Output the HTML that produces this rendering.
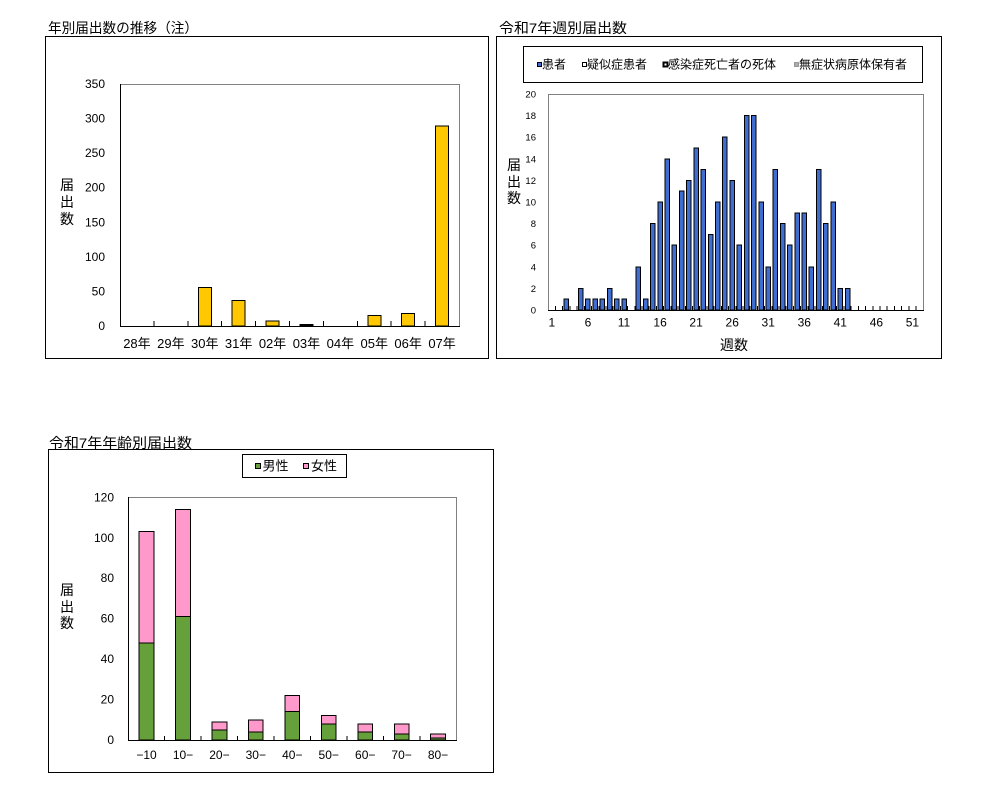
<!DOCTYPE html>
<html>
<head>
<meta charset="utf-8">
<style>
html,body{margin:0;padding:0;background:#fff;}
body{width:991px;height:811px;overflow:hidden;}
svg{display:block;}
text{font-family:"Liberation Sans","Noto Sans CJK JP",sans-serif;fill:#000;}
.r{shape-rendering:crispEdges;}
</style>
</head>
<body>
<svg width="991" height="811" viewBox="0 0 991 811" xmlns="http://www.w3.org/2000/svg">
<!-- ================= Chart 1 ================= -->
<text x="48" y="33" font-size="14" textLength="150" lengthAdjust="spacingAndGlyphs">年別届出数の推移（注）</text>
<rect class="r" x="45.5" y="36.5" width="443" height="322" fill="none" stroke="#000"/>
<!-- plot frame -->
<path class="r" d="M120 84.5 H459.5 V326" fill="none" stroke="#808080"/>
<!-- bars -->
<g class="r" stroke="#000" stroke-width="1" fill="#FFC800">
<rect x="198.25" y="287.28" width="13" height="38.72"/>
<rect x="232.15" y="300.42" width="13" height="25.58"/>
<rect x="266.05" y="321.16" width="13" height="4.84"/>
<rect x="299.95" y="324.5" width="13" height="1.5" fill="#000"/>
<rect x="367.75" y="315.63" width="13" height="10.37"/>
<rect x="401.65" y="313.55" width="13" height="12.45"/>
<rect x="435.55" y="126.2" width="13" height="199.8"/>
</g>
<path class="r" d="M120.5 84 V326.5 M120 326.5 H460 M153.9 321 V326 M187.8 321 V326 M221.7 321 V326 M255.6 321 V326 M289.5 321 V326 M323.4 321 V326 M357.3 321 V326 M391.2 321 V326 M425.1 321 V326" stroke="#000" fill="none"/>
<g font-size="12" text-anchor="end">
<text x="105" y="330">0</text>
<text x="105" y="295.4">50</text>
<text x="105" y="260.9">100</text>
<text x="105" y="226.3">150</text>
<text x="105" y="191.7">200</text>
<text x="105" y="157.1">250</text>
<text x="105" y="122.6">300</text>
<text x="105" y="88">350</text>
</g>
<g font-size="14" text-anchor="middle">
<text x="67" y="190">届</text>
<text x="67" y="207">出</text>
<text x="67" y="224">数</text>
</g>
<g font-size="13" text-anchor="middle">
<text x="136.95" y="348">28年</text>
<text x="170.85" y="348">29年</text>
<text x="204.75" y="348">30年</text>
<text x="238.65" y="348">31年</text>
<text x="272.55" y="348">02年</text>
<text x="306.45" y="348">03年</text>
<text x="340.35" y="348">04年</text>
<text x="374.25" y="348">05年</text>
<text x="408.15" y="348">06年</text>
<text x="442.05" y="348">07年</text>
</g>

<!-- ================= Chart 2 ================= -->
<text x="499" y="33" font-size="14" textLength="128" lengthAdjust="spacingAndGlyphs">令和7年週別届出数</text>
<rect class="r" x="496.5" y="36.5" width="445" height="322" fill="none" stroke="#000"/>
<rect class="r" x="523.5" y="46.5" width="399" height="36" fill="none" stroke="#000"/>
<!-- legend -->
<rect class="r" x="537.5" y="62.5" width="4" height="4" fill="#3F6ED0" stroke="#000"/>
<text x="542" y="68.5" font-size="12">患者</text>
<rect class="r" x="582.5" y="62.5" width="4" height="4" fill="#fff" stroke="#000"/>
<text x="587" y="68.5" font-size="12">疑似症患者</text>
<rect class="r" x="663.5" y="62.5" width="4" height="4" fill="#fff" stroke="#000" stroke-width="1.6"/>
<text x="668" y="68.5" font-size="12">感染症死亡者の死体</text>
<rect class="r" x="794.5" y="62.5" width="4" height="4" fill="#aaa" stroke="#999"/>
<text x="799" y="68.5" font-size="12">無症状病原体保有者</text>
<!-- plot frame -->
<path class="r" d="M548.5 310 V94.5 H923.5 V310" fill="none" stroke="#808080"/>
<!-- bars -->
<g class="r" stroke="#000" stroke-width="1" fill="#3F6ED0">
<rect x="564.08" y="299.2" width="4.5" height="10.8"/>
<rect x="578.50" y="288.4" width="4.5" height="21.6"/>
<rect x="585.71" y="299.2" width="4.5" height="10.8"/>
<rect x="592.92" y="299.2" width="4.5" height="10.8"/>
<rect x="600.13" y="299.2" width="4.5" height="10.8"/>
<rect x="607.34" y="288.4" width="4.5" height="21.6"/>
<rect x="614.55" y="299.2" width="4.5" height="10.8"/>
<rect x="621.76" y="299.2" width="4.5" height="10.8"/>
<rect x="636.18" y="266.8" width="4.5" height="43.2"/>
<rect x="643.39" y="299.2" width="4.5" height="10.8"/>
<rect x="650.60" y="223.6" width="4.5" height="86.4"/>
<rect x="657.81" y="202" width="4.5" height="108"/>
<rect x="665.02" y="158.8" width="4.5" height="151.2"/>
<rect x="672.23" y="245.2" width="4.5" height="64.8"/>
<rect x="679.44" y="191.2" width="4.5" height="118.8"/>
<rect x="686.65" y="180.4" width="4.5" height="129.6"/>
<rect x="693.86" y="148" width="4.5" height="162"/>
<rect x="701.07" y="169.6" width="4.5" height="140.4"/>
<rect x="708.28" y="234.4" width="4.5" height="75.6"/>
<rect x="715.49" y="202" width="4.5" height="108"/>
<rect x="722.70" y="137.2" width="4.5" height="172.8"/>
<rect x="729.91" y="180.4" width="4.5" height="129.6"/>
<rect x="737.12" y="245.2" width="4.5" height="64.8"/>
<rect x="744.33" y="115.6" width="4.5" height="194.4"/>
<rect x="751.54" y="115.6" width="4.5" height="194.4"/>
<rect x="758.75" y="202" width="4.5" height="108"/>
<rect x="765.96" y="266.8" width="4.5" height="43.2"/>
<rect x="773.17" y="169.6" width="4.5" height="140.4"/>
<rect x="780.38" y="223.6" width="4.5" height="86.4"/>
<rect x="787.59" y="245.2" width="4.5" height="64.8"/>
<rect x="794.80" y="212.8" width="4.5" height="97.2"/>
<rect x="802.01" y="212.8" width="4.5" height="97.2"/>
<rect x="809.22" y="266.8" width="4.5" height="43.2"/>
<rect x="816.43" y="169.6" width="4.5" height="140.4"/>
<rect x="823.64" y="223.6" width="4.5" height="86.4"/>
<rect x="830.85" y="202" width="4.5" height="108"/>
<rect x="838.06" y="288.4" width="4.5" height="21.6"/>
<rect x="845.27" y="288.4" width="4.5" height="21.6"/>
</g>
<path class="r" d="M548 310.5 H924 M555.5 306 V310 M562.7 306 V310 M569.9 306 V310 M577.1 306 V310 M584.4 306 V310 M591.6 306 V310 M598.8 306 V310 M606 306 V310 M613.2 306 V310 M620.4 306 V310 M627.6 306 V310 M634.8 306 V310 M642 306 V310 M649.2 306 V310 M656.5 306 V310 M663.7 306 V310 M670.9 306 V310 M678.1 306 V310 M685.3 306 V310 M692.5 306 V310 M699.7 306 V310 M706.9 306 V310 M714.1 306 V310 M721.3 306 V310 M728.6 306 V310 M735.8 306 V310 M743 306 V310 M750.2 306 V310 M757.4 306 V310 M764.6 306 V310 M771.8 306 V310 M779 306 V310 M786.2 306 V310 M793.4 306 V310 M800.7 306 V310 M807.9 306 V310 M815.1 306 V310 M822.3 306 V310 M829.5 306 V310 M836.7 306 V310 M843.9 306 V310 M851.1 306 V310 M858.3 306 V310 M865.5 306 V310 M872.8 306 V310 M880 306 V310 M887.2 306 V310 M894.4 306 V310 M901.6 306 V310 M908.8 306 V310 M916 306 V310" stroke="#000" fill="none"/>
<g font-size="9.5" text-anchor="end">
<text x="536" y="313.5">0</text>
<text x="536" y="291.9">2</text>
<text x="536" y="270.3">4</text>
<text x="536" y="248.7">6</text>
<text x="536" y="227.1">8</text>
<text x="536" y="205.5">10</text>
<text x="536" y="183.9">12</text>
<text x="536" y="162.3">14</text>
<text x="536" y="140.7">16</text>
<text x="536" y="119.1">18</text>
<text x="536" y="97.5">20</text>
</g>
<g font-size="12" text-anchor="middle">
<text x="551.9" y="326.5">1</text>
<text x="588.0" y="326.5">6</text>
<text x="624.0" y="326.5">11</text>
<text x="660.1" y="326.5">16</text>
<text x="696.1" y="326.5">21</text>
<text x="732.2" y="326.5">26</text>
<text x="768.2" y="326.5">31</text>
<text x="804.3" y="326.5">36</text>
<text x="840.3" y="326.5">41</text>
<text x="876.4" y="326.5">46</text>
<text x="912.4" y="326.5">51</text>
</g>
<g font-size="14" text-anchor="middle">
<text x="514" y="170">届</text>
<text x="514" y="187">出</text>
<text x="514" y="203">数</text>
<text x="734" y="350">週数</text>
</g>

<!-- ================= Chart 3 ================= -->
<text x="49" y="448" font-size="14" textLength="143" lengthAdjust="spacingAndGlyphs">令和7年年齢別届出数</text>
<rect class="r" x="48.5" y="449.5" width="445" height="323" fill="none" stroke="#000"/>
<rect class="r" x="242.5" y="454.5" width="104" height="23" fill="none" stroke="#000"/>
<rect class="r" x="255.5" y="463.5" width="5" height="5" fill="#66A03A" stroke="#000"/>
<text x="262.5" y="470.5" font-size="13">男性</text>
<rect class="r" x="303.5" y="463.5" width="5" height="5" fill="#FF99CC" stroke="#000"/>
<text x="311" y="470.5" font-size="13">女性</text>
<path class="r" d="M128.3 497.5 H456.5 V740" fill="none" stroke="#808080"/>
<g class="r" stroke="#000" stroke-width="1">
<rect x="139.17" y="531.68" width="14.7" height="111.24" fill="#FF99CC"/>
<rect x="139.17" y="642.92" width="14.7" height="97.08" fill="#66A03A"/>
<rect x="175.61" y="509.43" width="14.7" height="107.2" fill="#FF99CC"/>
<rect x="175.61" y="616.63" width="14.7" height="123.37" fill="#66A03A"/>
<rect x="212.05" y="721.8" width="14.7" height="8.09" fill="#FF99CC"/>
<rect x="212.05" y="729.89" width="14.7" height="10.11" fill="#66A03A"/>
<rect x="248.49" y="719.77" width="14.7" height="12.14" fill="#FF99CC"/>
<rect x="248.49" y="731.91" width="14.7" height="8.09" fill="#66A03A"/>
<rect x="284.93" y="695.5" width="14.7" height="16.18" fill="#FF99CC"/>
<rect x="284.93" y="711.68" width="14.7" height="28.32" fill="#66A03A"/>
<rect x="321.37" y="715.73" width="14.7" height="8.09" fill="#FF99CC"/>
<rect x="321.37" y="723.82" width="14.7" height="16.18" fill="#66A03A"/>
<rect x="357.81" y="723.82" width="14.7" height="8.09" fill="#FF99CC"/>
<rect x="357.81" y="731.91" width="14.7" height="8.09" fill="#66A03A"/>
<rect x="394.25" y="723.82" width="14.7" height="10.11" fill="#FF99CC"/>
<rect x="394.25" y="733.93" width="14.7" height="6.07" fill="#66A03A"/>
<rect x="430.69" y="733.93" width="14.7" height="4.05" fill="#FF99CC"/>
<rect x="430.69" y="737.98" width="14.7" height="2.02" fill="#66A03A"/>
</g>
<path class="r" d="M128.5 497 V740.5 M128 740.5 H457 M164.7 736 V740 M201.2 736 V740 M237.6 736 V740 M274.1 736 V740 M310.5 736 V740 M346.9 736 V740 M383.4 736 V740 M419.8 736 V740" stroke="#000" fill="none"/>
<g font-size="12" text-anchor="end">
<text x="114" y="744">0</text>
<text x="114" y="703.6">20</text>
<text x="114" y="663.1">40</text>
<text x="114" y="622.7">60</text>
<text x="114" y="582.2">80</text>
<text x="114" y="541.8">100</text>
<text x="114" y="501.3">120</text>
</g>
<g font-size="14" text-anchor="middle">
<text x="67" y="595">届</text>
<text x="67" y="612">出</text>
<text x="67" y="628">数</text>
</g>
<g font-size="12" text-anchor="middle">
<text x="146.5" y="759">−10</text>
<text x="183" y="759">10−</text>
<text x="219.4" y="759">20−</text>
<text x="255.8" y="759">30−</text>
<text x="292.3" y="759">40−</text>
<text x="328.7" y="759">50−</text>
<text x="365.2" y="759">60−</text>
<text x="401.6" y="759">70−</text>
<text x="438" y="759">80−</text>
</g>
</svg>
</body>
</html>
